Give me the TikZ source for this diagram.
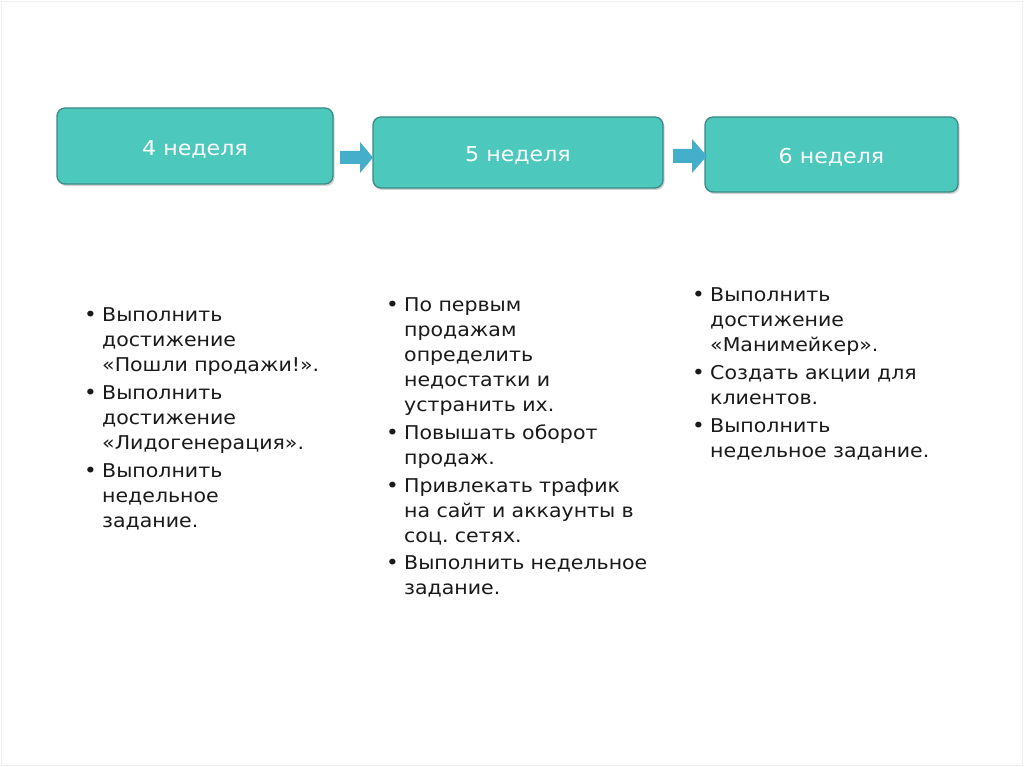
\documentclass[tikz,border=0pt]{standalone}
\usepackage{fontspec}
\setmainfont{DejaVu Sans}[FakeStretch=1.08]
\usetikzlibrary{shadows}
\definecolor{boxfill}{HTML}{4CC8BC}
\definecolor{boxline}{HTML}{3A8A85}
\definecolor{arrowc}{HTML}{45AFCB}
\definecolor{frame}{HTML}{EEEEEE}
\definecolor{txt}{HTML}{1A1A1A}
\newcommand\bitem[1]{\par\hangindent=16pt\hangafter=1\noindent\makebox[16pt][l]{\hspace*{-2pt}\fontsize{20}{20}\selectfont•}#1}
\tikzset{
  weekbox/.style={draw=boxline, line width=1.3pt, fill=boxfill, rounded corners=8pt,
    drop shadow={shadow xshift=1.5pt, shadow yshift=-2pt, opacity=0.35}, inner sep=0pt},
  weeklabel/.style={text=white, font=\fontsize{20.5}{22}\selectfont, inner sep=0pt},
  col/.style={anchor=north west, inner sep=0pt, text width=300pt, align=left, text=txt,
    font=\fontsize{19}{25}\selectfont\frenchspacing\setlength{\parskip}{2.6pt}},
  bigarrow/.style={fill=arrowc, draw=none}
}
\begin{document}
\begin{tikzpicture}[x=1pt,y=-1pt]
\useasboundingbox (0,0) rectangle (1024,767);
\fill[white] (0,0) rectangle (1024,767);
\draw[frame, line width=1pt] (1.5,1.5) rectangle (1022.5,765.5);
% boxes
\node[weekbox, minimum width=276pt, minimum height=76pt] (w4) at (195,146) {};
\node[weekbox, minimum width=290pt, minimum height=71pt] (w5) at (518,152.5) {};
\node[weekbox, minimum width=253pt, minimum height=75pt] (w6) at (831.5,154.5) {};
\node[weeklabel] (l4) at ([yshift=-3pt]w4.center) {4 неделя};
\node[weeklabel] (l5) at ([yshift=-3pt]w5.center) {5 неделя};
\node[weeklabel] (l6) at ([yshift=-3pt]w6.center) {6 неделя};
% arrows
\fill[bigarrow] (340,151) -- (360,151) -- (360,142) -- (373,157.5) -- (360,173) -- (360,164) -- (340,164) -- cycle;
\fill[bigarrow] (673,149) -- (692,149) -- (692,139) -- (707,156) -- (692,173) -- (692,163) -- (673,163) -- cycle;
% columns
\node[col] (c1) at (86,294) {%
\bitem{Выполнить\newline достижение\newline «Пошли продажи!».}
\bitem{Выполнить\newline достижение\newline «Лидогенерация».}
\bitem{Выполнить\newline недельное\newline задание.}\par};
\node[col] (c2) at (388,284) {%
\bitem{По первым\newline продажам\newline определить\newline недостатки и\newline устранить их.}
\bitem{Повышать оборот\newline продаж.}
\bitem{Привлекать трафик\newline на сайт и аккаунты в\newline соц. сетях.}
\bitem{Выполнить недельное\newline задание.}\par};
\node[col] (c3) at (694,274) {%
\bitem{Выполнить\newline достижение\newline «Манимейкер».}
\bitem{Создать акции для\newline клиентов.}
\bitem{Выполнить\newline недельное задание.}\par};
\end{tikzpicture}
\end{document}
